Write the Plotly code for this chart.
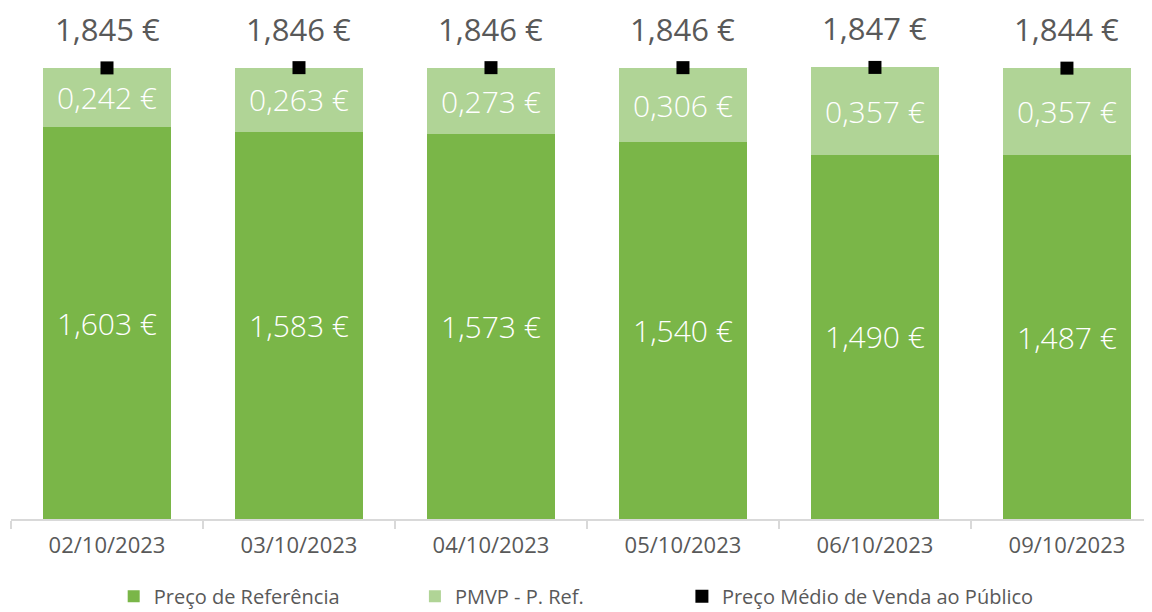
import plotly.graph_objects as go

dates = ["02/10/2023", "03/10/2023", "04/10/2023", "05/10/2023", "06/10/2023", "09/10/2023"]
preco_ref = [1.603, 1.583, 1.573, 1.540, 1.490, 1.487]
pmvp_ref = [0.242, 0.263, 0.273, 0.306, 0.357, 0.357]
pmvp = [1.845, 1.846, 1.846, 1.846, 1.847, 1.844]

DARK = "#7AB648"
LIGHT = "#B0D496"
GRAY = "#595959"
FONT = "Open Sans"

fig = go.Figure()
fig.add_trace(go.Bar(
    x=dates, y=preco_ref, name="Preço de Referência", marker=dict(color=DARK, line=dict(width=0)),
    texttemplate="%{y:.3f} €", textposition="inside", insidetextanchor="middle", textangle=0,
    constraintext="none", textfont=dict(color="white", size=30, family=FONT, weight=300),
    legend="legend"))
fig.add_trace(go.Bar(
    x=dates, y=pmvp_ref, name="PMVP - P. Ref.", marker=dict(color=LIGHT, line=dict(width=0)),
    texttemplate="%{y:.3f} €", textposition="inside", insidetextanchor="middle", textangle=0,
    constraintext="none", textfont=dict(color="white", size=30, family=FONT, weight=300),
    legend="legend2"))
fig.add_trace(go.Scatter(
    x=dates, y=pmvp, name="Preço Médio de Venda ao Público", mode="markers",
    marker=dict(symbol="square", size=13, color="black"), legend="legend3"))

for d, v in zip(dates, pmvp):
    fig.add_annotation(x=d, y=v, yshift=39, showarrow=False,
                       text=f"{v:.3f}".replace(".", ",") + " €",
                       font=dict(size=31, color=GRAY, family=FONT))

legend_common = dict(orientation="h", yanchor="middle", y=-0.158, xref="paper", yref="paper",
                     bgcolor="rgba(0,0,0,0)", font=dict(size=20, color=GRAY, family=FONT),
                     itemwidth=30)
fig.update_layout(
    width=1144, height=604,
    margin=dict(l=3, r=0, t=22, b=93, autoexpand=False),
    barmode="stack", bargap=1/3,
    separators=",.",
    plot_bgcolor="white", paper_bgcolor="white",
    font=dict(family=FONT, color=GRAY),
    showlegend=True,
    legend=dict(x=0.090, **legend_common),
    legend2=dict(x=0.354, **legend_common),
    legend3=dict(x=0.588, **legend_common),
    xaxis=dict(type="category", range=[-0.5, 5.443], showline=True, linecolor="#D9D9D9", linewidth=1.5,
               ticks="outside", ticklen=8, tickcolor="#D9D9D9", tickwidth=1.5, tickson="boundaries",
               ticklabelstandoff=6,
               showgrid=False, tickfont=dict(size=22, color=GRAY, family=FONT)),
    yaxis=dict(range=[0, 2.0], visible=False, showgrid=False, zeroline=False),
)

fig.write_html("out.html")
